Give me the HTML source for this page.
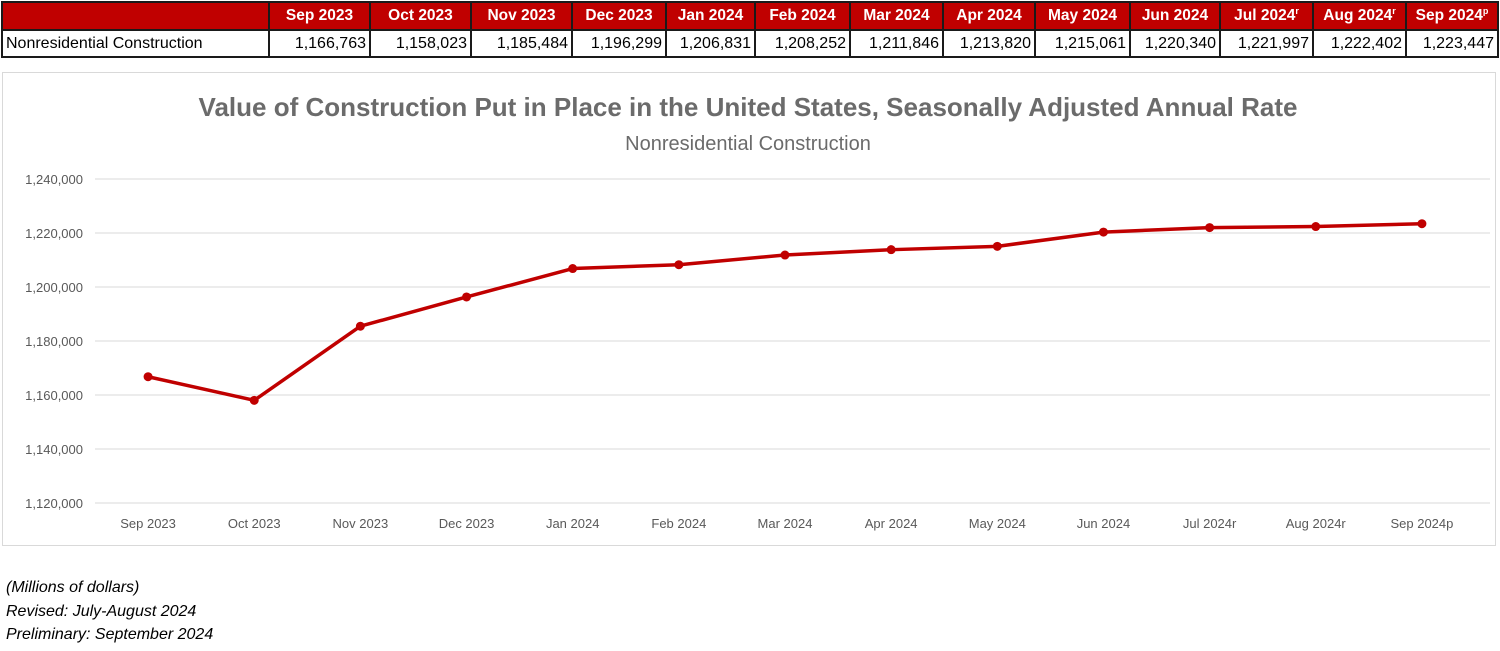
<!DOCTYPE html>
<html><head><meta charset="utf-8">
<style>
body{margin:0;width:1500px;height:651px;background:#fff;font-family:"Liberation Sans",sans-serif;overflow:hidden;position:relative}
table{position:absolute;left:1px;top:1px;border-collapse:collapse;table-layout:fixed}
td{border:2px solid #1a1a1a;height:25px;padding:0 3px;font-size:16px;white-space:nowrap;overflow:hidden}
tr.h td{background:#c00000;color:#fff;font-weight:bold;text-align:center;height:26px;font-size:15.5px}
tr.d td{text-align:right;font-size:16px}
tr.d td:first-child{text-align:left}
sup{font-size:9px}
#chartbox{position:absolute;left:2px;top:72px;width:1492px;height:472px;border:1px solid #d9d9d9}
.notes{position:absolute;left:6px;top:576px;font-style:italic;font-size:16px;line-height:23.5px;color:#000}
</style></head><body>
<table>
<colgroup><col style="width:267px"><col style="width:101px"><col style="width:101px"><col style="width:101px"><col style="width:94px"><col style="width:89px"><col style="width:95px"><col style="width:93px"><col style="width:92px"><col style="width:95px"><col style="width:90px"><col style="width:93px"><col style="width:93px"><col style="width:92px"></colgroup>
<tr class="h"><td></td><td>Sep 2023</td><td>Oct 2023</td><td>Nov 2023</td><td>Dec 2023</td><td>Jan 2024</td><td>Feb 2024</td><td>Mar 2024</td><td>Apr 2024</td><td>May 2024</td><td>Jun 2024</td><td>Jul 2024<sup>r</sup></td><td>Aug 2024<sup>r</sup></td><td>Sep 2024<sup>p</sup></td></tr>
<tr class="d"><td>Nonresidential Construction</td><td>1,166,763</td><td>1,158,023</td><td>1,185,484</td><td>1,196,299</td><td>1,206,831</td><td>1,208,252</td><td>1,211,846</td><td>1,213,820</td><td>1,215,061</td><td>1,220,340</td><td>1,221,997</td><td>1,222,402</td><td>1,223,447</td></tr>
</table>
<div id="chartbox"></div>
<svg id="chart" width="1500" height="651" style="position:absolute;left:0;top:0">
<text x="748" y="116" text-anchor="middle" font-size="26" font-weight="bold" fill="#6b6b6b">Value of Construction Put in Place in the United States, Seasonally Adjusted Annual Rate</text>
<text x="748" y="150" text-anchor="middle" font-size="20" fill="#6b6b6b">Nonresidential Construction</text>
<g id="grid"></g><g id="xl"></g><g id="series"></g>
</svg>
<div class="notes">(Millions of dollars)<br>Revised: July-August 2024<br>Preliminary: September 2024</div>
<script>
const categories=["Sep 2023","Oct 2023","Nov 2023","Dec 2023","Jan 2024","Feb 2024","Mar 2024","Apr 2024","May 2024","Jun 2024","Jul 2024r","Aug 2024r","Sep 2024p"];
const values=[1166763,1158023,1185484,1196299,1206831,1208252,1211846,1213820,1215061,1220340,1221997,1222402,1223447];
const yTicks=[1120000,1140000,1160000,1180000,1200000,1220000,1240000];
const NS="http://www.w3.org/2000/svg";
const left=95,right=1475,yMin=1120000,yMax=1240000,yTop=179,yBot=503;
const band=(right-left)/categories.length;
const x=i=>left+band*(i+0.5);
const y=v=>yBot-(v-yMin)/(yMax-yMin)*(yBot-yTop);
function mk(t,a,p){const e=document.createElementNS(NS,t);for(const k in a)e.setAttribute(k,a[k]);p.appendChild(e);return e;}
const g=document.getElementById('grid'),xl=document.getElementById('xl'),s=document.getElementById('series');
yTicks.forEach(v=>{
 const l=mk('line',{x1:95,x2:1490,y1:y(v),y2:y(v),stroke:'#d9d9d9','stroke-width':1},g);
 
 
 const t=mk('text',{x:83,y:y(v)+5,'text-anchor':'end','font-size':13,fill:'#595959'},g);
 t.textContent=v.toLocaleString('en-US');
 
 
});
categories.forEach((c,i)=>{
 const t=mk('text',{x:x(i),y:528,'text-anchor':'middle','font-size':13,fill:'#595959'},xl);
 t.textContent=c;
 
 
});
const pl=mk('polyline',{points:values.map((v,i)=>x(i)+','+y(v)).join(' '),fill:'none',stroke:'#c00000','stroke-width':3.5,'stroke-linejoin':'round'},s);


values.forEach((v,i)=>{
 const c=mk('circle',{cx:x(i),cy:y(v),r:4.5,fill:'#c00000'},s);
 
 
});
</script>
</body></html>
